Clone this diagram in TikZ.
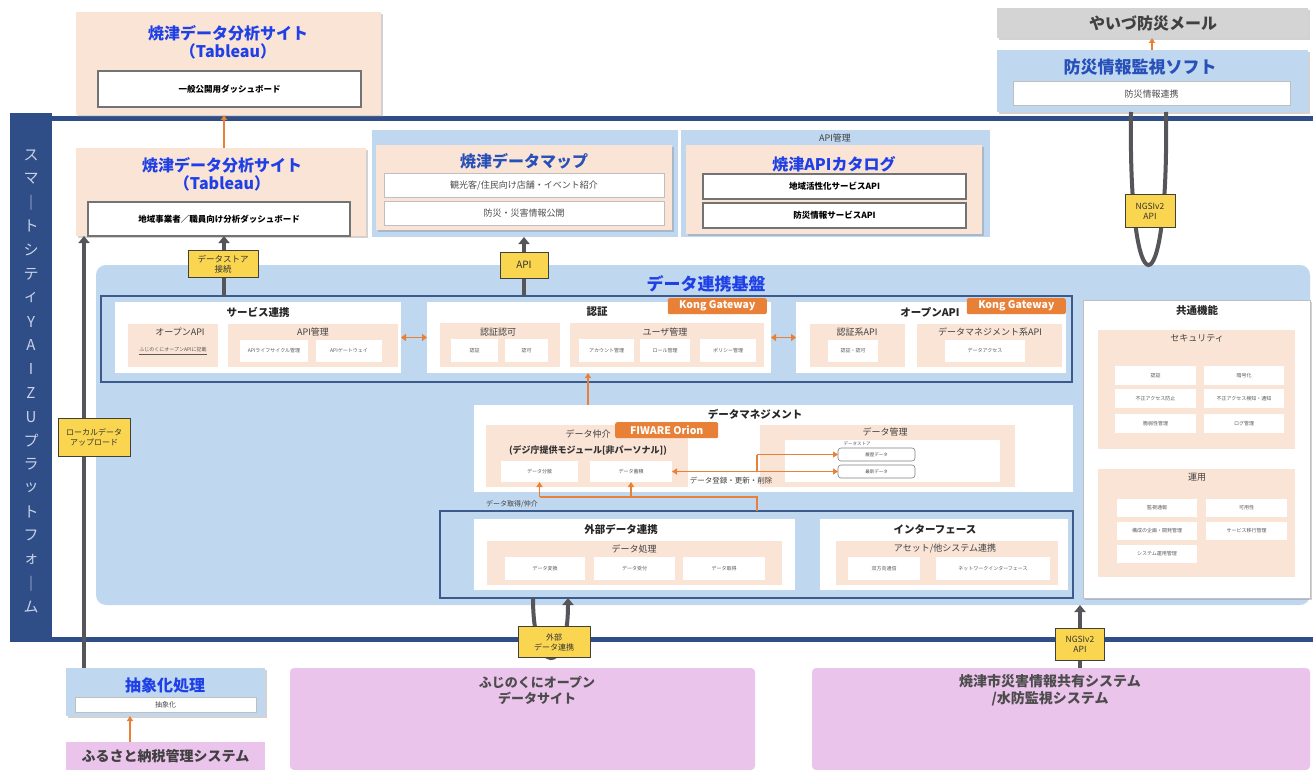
\documentclass[tikz,border=0pt]{standalone}
\usepackage{fontspec}
\setmainfont{Noto Sans CJK JP}
\usetikzlibrary{arrows.meta,shadows}
\definecolor{peach}{RGB}{250,228,214}
\definecolor{lblue}{RGB}{192,215,240}
\definecolor{dblue}{RGB}{47,77,135}
\definecolor{fblue}{RGB}{60,90,140}
\definecolor{yel}{RGB}{250,214,80}
\definecolor{orng}{RGB}{232,128,56}
\definecolor{pinkc}{RGB}{235,196,236}
\definecolor{grayb}{RGB}{212,212,212}
\definecolor{glinec}{RGB}{85,85,90}
\definecolor{tblue}{RGB}{30,64,230}
\definecolor{tblue2}{RGB}{40,80,185}
\definecolor{bartxt}{RGB}{200,210,232}
\tikzset{
  box/.style={anchor=north west, inner sep=0pt, outer sep=0pt, align=center},
  sh/.style={drop shadow={shadow xshift=2pt, shadow yshift=-2pt, opacity=.35}},
  ttl/.style={font=\fontsize{16}{18}\selectfont\bfseries, text=tblue, align=center},
  ttlb/.style={font=\fontsize{16}{18}\selectfont\bfseries, text=tblue2, align=center},
  hone/.style={font=\fontsize{10.5}{12}\selectfont\bfseries, text=black!85},
  htwo/.style={font=\fontsize{9}{10}\selectfont, text=black!75},
  wsm/.style={box, fill=white, font=\fontsize{5}{6}\selectfont, text=black!65},
  wbox/.style={box, fill=white, draw=black!55, line width=1.3pt, font=\fontsize{8.5}{10}\selectfont\bfseries},
  wboxtwo/.style={box, fill=white, draw=black!25, line width=1pt, font=\fontsize{9}{10}\selectfont, text=black!70},
  ylab/.style={fill=yel, draw=black!75, line width=0.8pt, inner sep=1pt, align=center, font=\fontsize{8.5}{10}\selectfont, text=black!80},
  tagbox/.style={fill=orng, text=white, font=\fontsize{10.5}{12}\selectfont\bfseries, rounded corners=2pt, inner sep=0pt, minimum height=16pt, minimum width=99pt},
  oarr/.style={draw=orng, line width=1.5pt, -{Triangle[width=6pt,length=5pt]}},
  oline/.style={draw=orng, line width=1.5pt},
  oarrtwo/.style={draw=orng, line width=1.8pt, {Triangle[width=7pt,length=5pt]}-{Triangle[width=7pt,length=5pt]}},
  garr/.style={draw=glinec, line width=4pt, -{Triangle[width=11pt,length=7pt]}},
  gloop/.style={draw=glinec, line width=4pt},
  bartext/.style={font=\fontsize{15}{16}\selectfont, text=bartxt},
  cyl/.style={box, fill=white, draw=black!50, line width=0.6pt, rounded corners=3pt, font=\fontsize{4.5}{5}\selectfont, text=black!70},
  pinkbox/.style={box, fill=pinkc, rounded corners=4pt, align=center}
}
\newcommand{\Bx}[7]{\node[box,#2,minimum width={(#5-#3)*1pt},minimum height={(#6-#4)*1pt}] (#1) at (#3,#4) {#7};}
\begin{document}
\begin{tikzpicture}[x=1pt,y=-1pt]
\useasboundingbox (0,0) rectangle (1313,770);
\fill[white] (0,0) rectangle (1313,770);
% x references
\coordinate (x84) at (84,0);
\coordinate (x130) at (130,0);
\coordinate (x224) at (224,0);
\coordinate (x524) at (524,0);
\coordinate (x533) at (533,0);
\coordinate (x568) at (568,0);
\coordinate (x588) at (588,0);
\coordinate (x1080) at (1080,0);
\coordinate (x1131) at (1131,0);
\coordinate (x1152) at (1152,0);
\coordinate (x1166) at (1166,0);

% platform frame
\Bx{bar}{fill=dblue}{10}{113}{52}{642}{}
\fill[dblue] (52,116) rectangle (1313,121);
\fill[dblue] (10,637) rectangle (1313,642);
\foreach \c [count=\i from 0] in {ス,マ,｜,ト,シ,テ,ィ,Y,A,I,Z,U,プ,ラ,ッ,ト,フ,ォ,｜,ム}
  \node[bartext] (v\i) at (31,155+\i*23.8) {\c};

% Tableau (top)
\Bx{tabA}{fill=peach,sh}{76}{12}{381}{115}{}
\node[ttl] (tabAt) at (228,42) {焼津データ分析サイト\\（Tableau）};
\Bx{tabAw}{wbox}{98}{71}{361}{107}{一般公開用ダッシュボード}

% Tableau (inside)
\Bx{tabB}{fill=peach,sh}{76}{148}{366}{236}{}
\node[ttl] (tabBt) at (222,174) {焼津データ分析サイト\\（Tableau）};
\Bx{tabBw}{wbox}{88}{202}{350}{236}{地域事業者／職員向け分析ダッシュボード}
\draw[oarr] (tabB.north -| x224) -- (tabA.south -| x224);

% data map / API catalog band
\Bx{band}{fill=lblue}{372}{130}{678}{237}{}
\Bx{bandb}{fill=lblue}{681}{130}{990}{237}{}
\node[font=\fontsize{9}{10}\selectfont, text=black!75] (apikanri) at (835,138) {API管理};
\Bx{map}{fill=peach,sh}{376}{145}{672}{230}{}
\node[ttlb] (mapt) at (524,161) {焼津データマップ};
\Bx{mapa}{wboxtwo}{384}{174}{664}{197}{観光客/住民向け店舗・イベント紹介}
\Bx{mapb}{wboxtwo}{384}{201}{664}{225}{防災・災害情報公開}
\Bx{cat}{fill=peach,sh}{686}{145}{982}{234}{}
\node[ttl] (catt) at (834,164) {焼津APIカタログ};
\Bx{cata}{wbox}{703}{174}{966}{199}{地域活性化サービスAPI}
\Bx{catb}{wbox}{703}{203}{966}{228}{防災情報サービスAPI}

% top right
\Bx{mail}{fill=grayb,sh}{997}{8}{1308}{38}{}
\node[font=\fontsize{16}{18}\selectfont\bfseries, text=black!75] (mailt) at (1153,23) {やいづ防災メール};
\Bx{soft}{fill=lblue,sh}{997}{50}{1308}{112}{}
\node[ttlb, font=\fontsize{17}{18}\selectfont\bfseries] (softt) at (1140,67) {防災情報監視ソフト};
\Bx{softw}{wboxtwo}{1013}{82}{1290}{106}{防災情報連携}
\draw[oarr] (soft.north -| x1152) -- (mail.south -| x1152);

% data platform
\Bx{dp}{fill=lblue, rounded corners=10pt}{96}{265}{1310}{605}{}
\node[ttl, font=\fontsize{17}{18}\selectfont\bfseries, text=tblue] (dpt) at (706,284) {データ連携基盤};

% NGSI loop top
\draw[gloop] (soft.south -| x1131) .. controls (1128,316) and (1169,316) .. (soft.south -| x1166);
\node[ylab, minimum width=50pt, minimum height=33pt] (ngsia) at (1150,211) {NGSIv2\\API};

% service frame
\Bx{svf}{draw=fblue, line width=1.3pt}{101}{296}{1072}{382}{}
\Bx{svc}{fill=white}{115}{302}{401}{373}{}
\node[hone] (svct) at (258,312) {サービス連携};
\Bx{oapi}{fill=peach}{128}{324}{218}{367}{}
\node[htwo] (oapit) at (180,332) {オープンAPI};
\node[font=\fontsize{5}{6}\selectfont, text=black!65] (oapix) at (173,351) {\underline{ふじのくにオープンAPIに記載}};
\Bx{apim}{fill=peach}{228}{324}{398}{367}{}
\node[htwo] (apimt) at (313,332) {API管理};
\Bx{apima}{wsm}{240}{340}{308}{362}{APIライフサイクル管理}
\Bx{apimb}{wsm}{316}{340}{382}{362}{APIゲートウェイ}

\Bx{auth}{fill=white}{427}{302}{771}{373}{}
\node[hone] (autht) at (597,312) {認証};
\node[tagbox, anchor=north east] (kong1) at (767,298) {Kong Gateway};
\Bx{authz}{fill=peach}{440}{323}{560}{367}{}
\node[htwo] (authzt) at (498,332) {認証認可};
\Bx{aa}{wsm}{451}{339}{498}{362}{認証}
\Bx{ab}{wsm}{505}{339}{548}{362}{認可}
\Bx{um}{fill=peach}{570}{323}{764}{367}{}
\node[htwo] (umt) at (665,332) {ユーザ管理};
\Bx{ua}{wsm}{579}{339}{634}{362}{アカウント管理}
\Bx{ub}{wsm}{640}{339}{690}{362}{ロール管理}
\Bx{uc}{wsm}{700}{339}{756}{362}{ポリシー管理}

\Bx{opn}{fill=white}{796}{302}{1066}{373}{}
\node[hone] (opnt) at (930,312) {オープンAPI};
\node[tagbox, anchor=north east] (kong2) at (1066,298) {Kong Gateway};
\Bx{oaa}{fill=peach}{810}{324}{905}{367}{}
\node[htwo] (oaat) at (857,332) {認証系API};
\Bx{oaaw}{wsm}{828}{340}{878}{362}{認証・認可}
\Bx{oab}{fill=peach}{917}{324}{1062}{367}{}
\node[htwo] (oabt) at (990,332) {データマネジメント系API};
\Bx{oabw}{wsm}{945}{340}{1025}{362}{データアクセス}

\draw[oarrtwo] (svc.east) -- (auth.west);
\draw[oarrtwo] (auth.east) -- (opn.west);

% common functions
\Bx{com}{fill=white, draw=black!25, sh}{1083}{300}{1310}{598}{}
\node[hone] (comt) at (1197,310) {共通機能};
\Bx{sec}{fill=peach}{1098}{330}{1295}{449}{}
\node[htwo] (sect) at (1197,338) {セキュリティ};
\Bx{sa}{wsm}{1115}{366}{1196}{385}{認証}
\Bx{sb}{wsm}{1204}{366}{1284}{385}{暗号化}
\Bx{sc}{wsm}{1115}{389}{1196}{408}{不正アクセス防止}
\Bx{sd}{wsm}{1204}{389}{1284}{408}{不正アクセス検知・通知}
\Bx{se}{wsm}{1115}{414}{1196}{433}{脆弱性管理}
\Bx{sf}{wsm}{1204}{414}{1284}{433}{ログ管理}
\Bx{ops}{fill=peach}{1098}{469}{1295}{577}{}
\node[htwo] (opst) at (1197,477) {運用};
\Bx{oa}{wsm}{1117}{499}{1197}{517}{監視通報}
\Bx{ob}{wsm}{1206}{499}{1287}{517}{可用性}
\Bx{oc}{wsm}{1117}{522}{1197}{540}{構成の企画・開発管理}
\Bx{od}{wsm}{1206}{522}{1287}{540}{サービス移行管理}
\Bx{oe}{wsm}{1117}{545}{1197}{563}{システム運用管理}

% data management
\Bx{dm}{fill=white}{474}{405}{1073}{492}{}
\node[hone] (dmt) at (755,414) {データマネジメント};
\Bx{brk}{fill=peach}{486}{425}{688}{487}{}
\node[htwo] (brkt) at (588,434) {データ仲介};
\node[tagbox, anchor=north west, minimum width=103pt] (fiware) at (615,422) {FIWARE Orion};
\node[font=\fontsize{9}{10}\selectfont\bfseries, text=black!80] (brks) at (588,450) {(デジ庁提供モジュール[非パーソナル])};
\Bx{ba}{wsm}{501}{461}{578}{482}{データ分散}
\Bx{bb}{wsm}{590}{461}{672}{482}{データ蓄積}
\Bx{dmg}{fill=peach}{760}{425}{1015}{487}{}
\node[htwo] (dmgt) at (885,432) {データ管理};
\Bx{dst}{fill=white}{785}{440}{1000}{482}{}
\node[font=\fontsize{4.5}{5}\selectfont, text=black!65] (dstt) at (857,444) {データストア};
\Bx{cya}{cyl}{838}{448}{915}{461}{履歴データ}
\Bx{cyb}{cyl}{838}{465}{915}{478}{最新データ}
\coordinate (jb) at (757,471.5);
\coordinate (ja) at (757,454.5);
\draw[oline] (jb) -- (ja);
\draw[oarr] (jb) -- (bb.east |- jb);
\draw[oarr] (jb) -- (cyb.west |- jb);
\draw[oarr] (ja) -- (cya.west |- ja);
\node[font=\fontsize{7.5}{8}\selectfont, text=black!75] (regl) at (731,481) {データ登録・更新・削除};
\draw[oarr] (dm.north -| x588) -- (auth.south -| x588);

% external frame
\Bx{extf}{draw=fblue, line width=1.3pt}{440}{511}{1073}{598}{}
\Bx{ext}{fill=white}{474}{519}{795}{590}{}
\node[hone] (extt) at (621,529) {外部データ連携};
\Bx{proc}{fill=peach}{487}{541}{782}{585}{}
\node[htwo] (proct) at (634,549) {データ処理};
\Bx{pa}{wsm}{505}{557}{585}{580}{データ変換}
\Bx{pb}{wsm}{594}{557}{675}{580}{データ受付}
\Bx{pc}{wsm}{683}{557}{765}{580}{データ取得}
\Bx{ifc}{fill=white}{820}{519}{1068}{590}{}
\node[hone] (ifct) at (935,529) {インターフェース};
\Bx{ast}{fill=peach}{836}{541}{1058}{585}{}
\node[htwo] (astt) at (945,549) {アセット/他システム連携};
\Bx{ia}{wsm}{848}{557}{920}{580}{双方向通信}
\Bx{ib}{wsm}{936}{557}{1050}{580}{ネットワークインターフェース}

\coordinate (jd) at (757,497);
\draw[oline] (extf.north -| jd) -- (jd) -- (ba.south |- jd);
\draw[oarr] (ba.south |- jd) -- (ba.south);
\draw[oarr] (bb.south |- jd) -- (bb.south);
\node[font=\fontsize{7}{8}\selectfont, text=black!75] (getl) at (512,504) {データ取得/仲介};

% bottom boxes
\Bx{abs}{fill=lblue,sh}{66}{668}{265}{716}{}
\node[ttl] (abst) at (165,685) {抽象化処理};
\Bx{absw}{wboxtwo, font=\fontsize{7}{8}\selectfont}{75}{697}{256}{712}{抽象化}
\Bx{furu}{fill=pinkc, font=\fontsize{14}{16}\selectfont\bfseries, text=black!75}{66}{742}{265}{770}{ふるさと納税管理システム}
\draw[oarr] (furu.north -| x130) -- (abs.south -| x130);
\Bx{pka}{pinkbox}{290}{668}{755}{770}{}
\node[font=\fontsize{13}{16}\selectfont\bfseries, text=black!70, align=center] (pkat) at (537,690) {ふじのくにオープン\\データサイト};
\Bx{pkb}{pinkbox}{812}{668}{1310}{770}{}
\node[font=\fontsize{14}{17}\selectfont\bfseries, text=black!70, align=center] (pkbt) at (1050,690) {焼津市災害情報共有システム\\/水防監視システム};

% gray arrows
\draw[garr] (abs.north -| x84) -- (tabB.south -| x84);
\draw[garr] (svf.north -| x224) -- (tabB.south -| x224);
\draw[garr] (svf.north -| x524) -- (band.south -| x524);
\draw[garr] (pkb.north -| x1080) -- (dp.south -| x1080);
\draw[garr] (extf.south -| x533) .. controls (533,677) and (568,677) .. (extf.south -| x568);

% yellow labels
\node[ylab, minimum width=72pt, minimum height=38pt, font=\fontsize{8}{10}\selectfont] (locl) at (94,437) {ローカルデータ\\アップロード};
\node[ylab, minimum width=70pt, minimum height=27pt] (dsl) at (223,264) {データストア\\接続};
\node[ylab, minimum width=48pt, minimum height=26pt, font=\fontsize{10}{12}\selectfont] (apil) at (524,265) {API};
\node[ylab, minimum width=49pt, minimum height=32pt] (ngsib) at (1080,644) {NGSIv2\\API};
\node[ylab, minimum width=72pt, minimum height=31pt, font=\fontsize{8}{10}\selectfont] (extl) at (554,642) {外部\\データ連携};
\end{tikzpicture}
\end{document}
